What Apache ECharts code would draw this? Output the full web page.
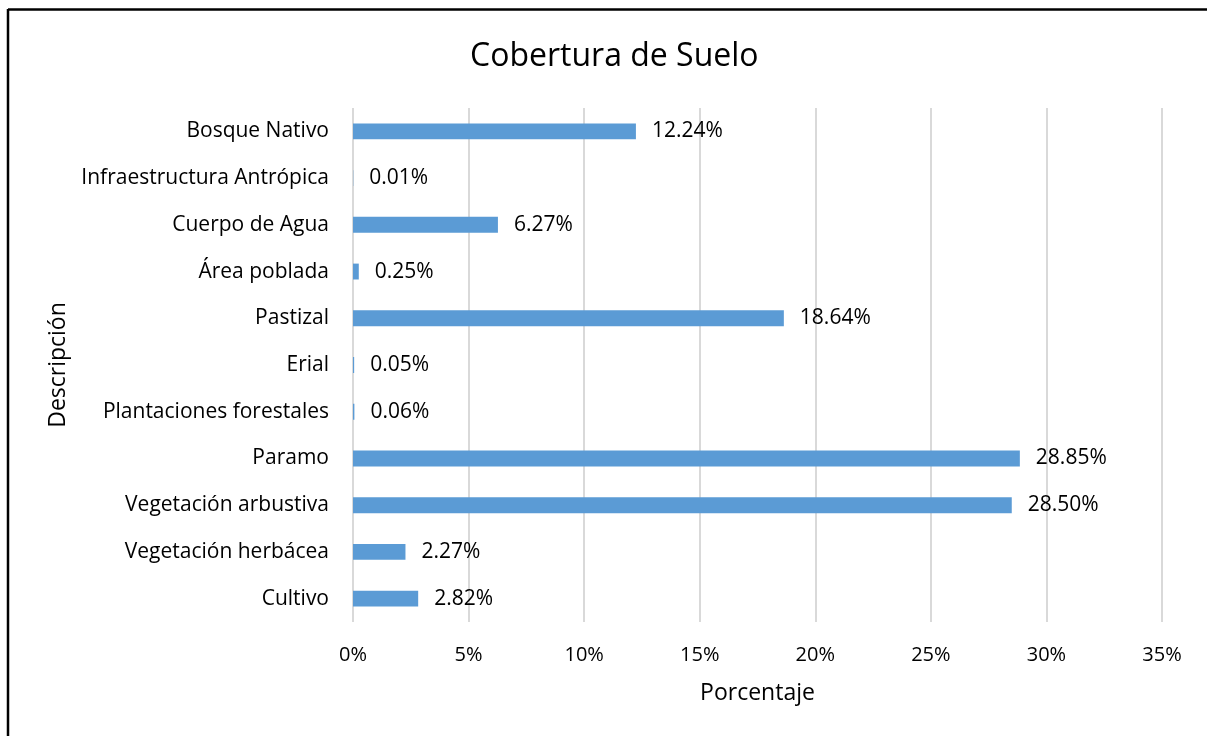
<!DOCTYPE html>
<html><head><meta charset="utf-8">
<script src="https://cdn.jsdelivr.net/npm/echarts@6/dist/echarts.min.js"></script>
<style>html,body{margin:0;padding:0;background:#fff}#c{width:1207px;height:736px}</style>
</head><body><div id="c"></div>
<script>
const categories = ["Bosque Nativo","Infraestructura Antrópica","Cuerpo de Agua","Área poblada","Pastizal","Erial","Plantaciones forestales","Paramo","Vegetación arbustiva","Vegetación herbácea","Cultivo"];
const values = [12.24, 0.01, 6.27, 0.25, 18.64, 0.05, 0.06, 28.85, 28.50, 2.27, 2.82];
const xTicks = [0, 5, 10, 15, 20, 25, 30, 35];
const FONT = "'Open Sans', sans-serif";
const chart = echarts.init(document.getElementById('c'), null, {renderer:'canvas'});
chart.setOption({
  animation:false,
  backgroundColor:'#fff',
  title:{text:'Cobertura de Suelo', left:465, top:36, textStyle:{fontFamily:FONT, fontSize:32, fontWeight:'normal', color:'#000'}},
  grid:{left:353, right:45, top:108, bottom:114, containLabel:false},
  xAxis:{type:'value', min:xTicks[0], max:xTicks[xTicks.length-1], interval:5,
    name:'Porcentaje', nameLocation:'middle', nameGap:60,
    nameTextStyle:{fontFamily:FONT, fontSize:23, color:'#000'},
    axisLine:{show:false}, axisTick:{show:false},
    axisLabel:{formatter:'{value}%', margin:23, fontFamily:FONT, fontSize:20, color:'#000'},
    splitLine:{show:true, lineStyle:{color:'#d9d9d9', width:2}}},
  yAxis:{type:'category', data:categories, inverse:true,
    name:'Descripción', nameLocation:'middle', nameGap:282, nameRotate:90,
    nameTextStyle:{fontFamily:FONT, fontSize:23, color:'#000'},
    axisLine:{show:false}, axisTick:{show:false},
    axisLabel:{margin:24, fontFamily:FONT, fontSize:21, color:'#000'}},
  series:[{type:'bar', data:values, barWidth:'34%',
    itemStyle:{color:'#5b9bd5'},
    label:{show:true, position:'right', distance:16, fontFamily:FONT, fontSize:21, color:'#000',
      formatter:p=>p.value.toFixed(2)+'%'}}],
  graphic:[
    {type:'line', shape:{x1:8, y1:9, x2:8, y2:736}, style:{stroke:'#000', lineWidth:2.5}},
    {type:'line', shape:{x1:8, y1:9.5, x2:1207, y2:9.5}, style:{stroke:'#000', lineWidth:2.5}}
  ]
});
</script></body></html>
